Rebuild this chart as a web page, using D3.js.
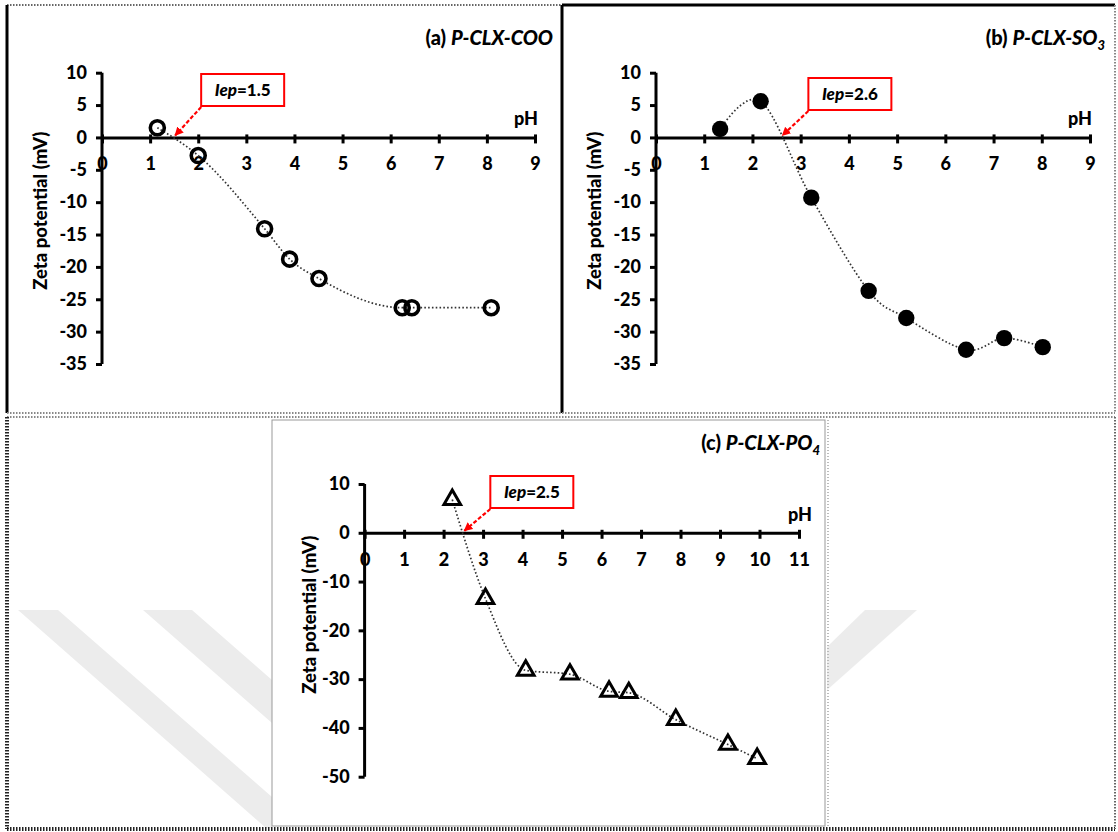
<!DOCTYPE html>
<html>
<head>
<meta charset="utf-8">
<script src="https://cdn.jsdelivr.net/npm/d3@7"></script>
<style>
  body { margin: 0; background: #fff; }
  svg { display: block; font-family: Lato, "Open Sans", sans-serif; }
  .axis path, .axis line { stroke: #000; stroke-width: 3; }
  .axis text { font-size: 18px; font-weight: 900; fill: #000; font-family: Lato, sans-serif; }
</style>
</head>
<body>
<svg id="chart" width="1118" height="832"></svg>
<script>
// values
const phA = [1.15, 2.0, 3.38, 3.9, 4.51, 6.24, 6.44, 8.09];
const zetaA = [1.5, -2.8, -14.1, -18.8, -21.8, -26.3, -26.3, -26.3];
const phB = [1.33, 2.17, 3.22, 4.41, 5.19, 6.43, 7.22, 8.02];
const zetaB = [1.3, 5.6, -9.3, -23.7, -27.9, -32.8, -31.0, -32.4];
const phC = [2.22, 3.06, 4.08, 5.2, 6.19, 6.69, 7.88, 9.2, 9.94];
const zetaC = [6.8, -13.5, -28.2, -29.0, -32.5, -32.8, -38.3, -43.4, -46.3];

const iep = [1.5, 2.6, 2.5];
const titles = ["(a) ", "(b) ", "(c) "];
const species = ["P-CLX-COO", "P-CLX-SO", "P-CLX-PO"];
const subs = ["", "3", "4"];

const xTicksAB = [0, 1, 2, 3, 4, 5, 6, 7, 8, 9];
const xTicksC = [0, 1, 2, 3, 4, 5, 6, 7, 8, 9, 10, 11];
const yTicksAB = [10, 5, 0, -5, -10, -15, -20, -25, -30, -35];
const yTicksC = [10, 0, -10, -20, -30, -40, -50];

const svg = d3.select("#chart");

// watermark stripes behind the lower panel
const wm = svg.append("g").attr("fill", "#ececec");
[[[18,610],[58,610],[272,797],[272,828],[266,828]],
 [[143,610],[192,610],[272,680],[272,723]],
 [[865,610],[917,610],[827,690],[827,647]]].forEach(p =>
  wm.append("polygon").attr("points", p.map(d => d.join(",")).join(" ")));

// frames
const frame = svg.append("g").attr("fill", "none");
frame.append("rect").attr("x", 272).attr("y", 420).attr("width", 553).attr("height", 406)
  .attr("fill", "#fff").attr("stroke", "#999").attr("stroke-width", 1);
frame.append("line").attr("x1", 828).attr("x2", 828).attr("y1", 420).attr("y2", 826)
  .attr("stroke", "#bbb").attr("stroke-width", 2).attr("stroke-dasharray", "1,2");
const dotted = (x1, y1, x2, y2, w, c) => frame.append("line")
  .attr("x1", x1).attr("y1", y1).attr("x2", x2).attr("y2", y2)
  .attr("stroke", c).attr("stroke-width", w).attr("stroke-dasharray", "1.5,1.5");
const solid = (x1, y1, x2, y2, w) => frame.append("line")
  .attr("x1", x1).attr("y1", y1).attr("x2", x2).attr("y2", y2)
  .attr("stroke", "#000").attr("stroke-width", w);
dotted(7, 5, 562, 5, 2, "#666");
solid(7, 5, 7, 413, 3);
solid(562, 5, 562, 413, 3);
dotted(7, 413, 1115, 413, 2, "#888");
solid(562, 5, 1115, 5, 3);
dotted(1115, 5, 1115, 413, 2, "#888");
dotted(7, 417, 1115, 417, 2, "#888");
dotted(7, 417, 7, 829, 4, "#222");
dotted(7, 829, 1115, 829, 4, "#222");
dotted(1115, 417, 1115, 829, 2, "#666");

// arrowhead
svg.append("defs").append("marker")
  .attr("id", "arr").attr("viewBox", "0 0 10 10").attr("refX", 9).attr("refY", 5)
  .attr("markerWidth", 4).attr("markerHeight", 4).attr("orient", "auto")
  .append("path").attr("d", "M0,0L10,5L0,10z").attr("fill", "#f00");

const panels = [
  {ph: phA, zeta: zetaA, xr: [102, 535], yr: [364, 72.7], xd: [0, 9], yd: [-35, 10],
   xt: xTicksAB, yt: yTicksAB, marker: "openCircle", titleX: 553, titleY: 45,
   labelX: 47, boxTop: 74, phX: 538, curve: d3.curveMonotoneX},
  {ph: phB, zeta: zetaB, xr: [656, 1090], yr: [364, 72.7], xd: [0, 9], yd: [-35, 10],
   xt: xTicksAB, yt: yTicksAB, marker: "dot", titleX: 1105, titleY: 45,
   labelX: 601, boxTop: 78, phX: 1092, curve: d3.curveCardinal.tension(0)},
  {ph: phC, zeta: zetaC, xr: [364.6, 799], yr: [776.7, 484], xd: [0, 11], yd: [-50, 10],
   xt: xTicksC, yt: yTicksC, marker: "triangle", titleX: 820, titleY: 450,
   labelX: 316, boxTop: 476, phX: 812, curve: d3.curveMonotoneX}
];

panels.forEach((p, i) => {
  const g = svg.append("g");
  const x = d3.scaleLinear().domain(p.xd).range(p.xr);
  const y = d3.scaleLinear().domain(p.yd).range(p.yr);

  g.append("g").attr("class", "axis")
    .attr("transform", "translate(" + x(0) + ",0)")
    .call(d3.axisLeft(y).tickValues(p.yt).tickFormat(d => String(d))
      .tickSize(6).tickSizeOuter(0).tickPadding(9))
    .select(".domain").attr("d", "M0," + y(p.yd[1]) + "V" + y(p.yd[0]));

  const xa = g.append("g").attr("class", "axis")
    .attr("transform", "translate(0," + y(0) + ")")
    .call(d3.axisBottom(x).tickValues(p.xt).tickFormat(d => String(d))
      .tickSize(6).tickSizeOuter(0).tickPadding(14));
  xa.selectAll(".tick line").attr("y1", -3);

  g.append("text").attr("x", p.phX).attr("y", y(0) - 12)
    .attr("text-anchor", "end").attr("font-size", 18).attr("font-weight", 900).text("pH");

  g.append("text")
    .attr("transform", "translate(" + p.labelX + "," + ((y(0) + y(p.yd[0])) / 2 - 40) + ") rotate(-90)")
    .attr("text-anchor", "middle").attr("font-size", 18.5).attr("font-weight", 900)
    .text("Zeta potential (mV)");

  const t = g.append("text").attr("x", p.titleX).attr("y", p.titleY)
    .attr("text-anchor", "end").attr("font-size", 20).attr("font-weight", 900);
  t.append("tspan").text(titles[i]);
  t.append("tspan").attr("font-style", "italic").text(species[i]);
  if (subs[i]) t.append("tspan").attr("font-style", "italic").attr("font-size", 13)
    .attr("dy", 5).text(subs[i]);

  const pts = p.ph.map((v, k) => [v, p.zeta[k]]);
  g.append("path").datum(pts)
    .attr("fill", "none").attr("stroke", "#333").attr("stroke-width", 1.7)
    .attr("stroke-dasharray", "1.6,2.2")
    .attr("d", d3.line().x(d => x(d[0])).y(d => y(d[1])).curve(p.curve));

  const m = g.selectAll(".pt").data(pts).enter();
  if (p.marker === "openCircle") {
    m.append("circle").attr("cx", d => x(d[0])).attr("cy", d => y(d[1])).attr("r", 7)
      .attr("fill", "none").attr("stroke", "#000").attr("stroke-width", 3.6);
  } else if (p.marker === "dot") {
    m.append("circle").attr("cx", d => x(d[0])).attr("cy", d => y(d[1])).attr("r", 8.2)
      .attr("fill", "#000");
  } else {
    m.append("path").attr("d", d3.symbol(d3.symbolTriangle, 120))
      .attr("transform", d => "translate(" + x(d[0]) + "," + y(d[1]) + ")")
      .attr("fill", "none").attr("stroke", "#000").attr("stroke-width", 3);
  }

  // iep callout
  const tipX = x(iep[i]), tipY = y(0);
  const bx = tipX + 27, bw = 83, bh = 32;
  g.append("line").attr("x1", bx).attr("y1", p.boxTop + bh + 1)
    .attr("x2", tipX + 1).attr("y2", tipY - 2)
    .attr("stroke", "#f00").attr("stroke-width", 2.2).attr("stroke-dasharray", "4,2")
    .attr("marker-end", "url(#arr)");
  g.append("rect").attr("x", bx).attr("y", p.boxTop).attr("width", bw).attr("height", bh)
    .attr("fill", "#fff").attr("stroke", "#f00").attr("stroke-width", 2);
  const lt = g.append("text").attr("x", bx + bw / 2).attr("y", p.boxTop + bh / 2 + 6)
    .attr("text-anchor", "middle").attr("font-size", 17).attr("font-weight", 900);
  lt.append("tspan").attr("font-style", "italic").text("Iep");
  lt.append("tspan").text("=" + iep[i]);
});
</script>
</body>
</html>
